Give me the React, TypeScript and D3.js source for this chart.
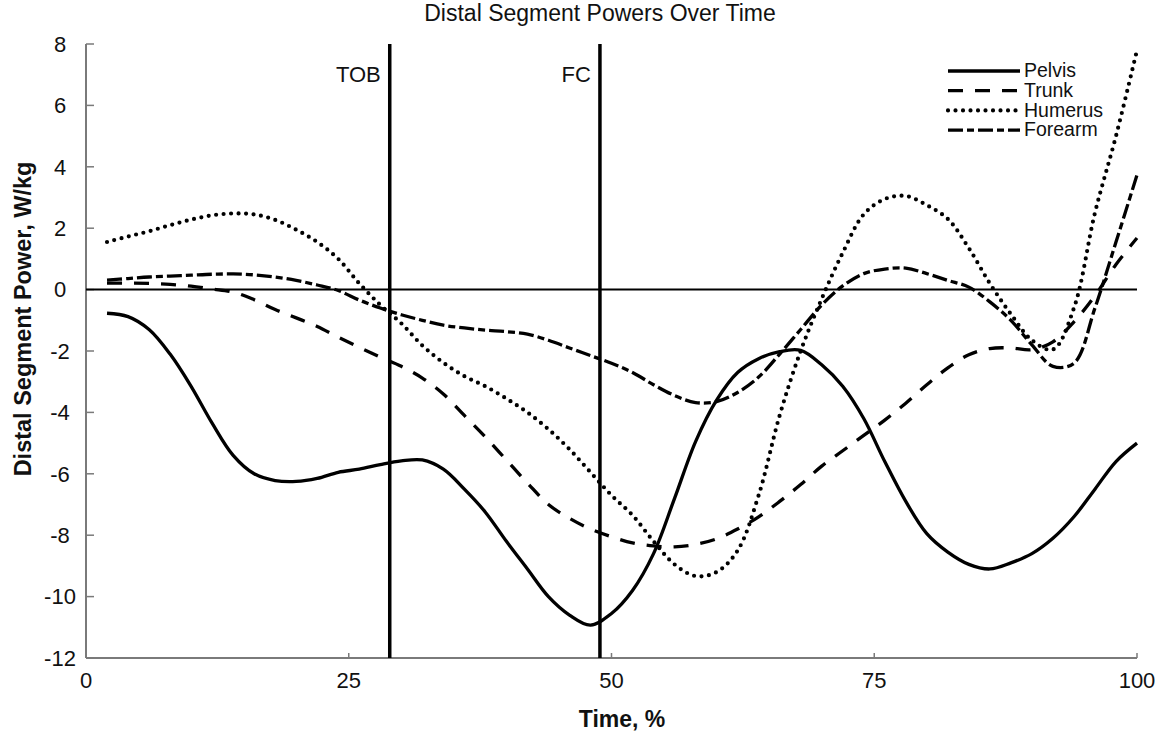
import React from "react";
import * as d3 from "d3";

// time points (% of cycle) and segment powers in W/kg
const time = [
  2, 4, 6, 8, 10, 12, 14, 16, 18, 20, 22, 24, 26, 28, 30, 32, 34, 36, 38, 40, 42, 44, 46, 48, 50,
  52, 54, 56, 58, 60, 62, 64, 66, 68, 70, 72, 74, 76, 78, 80, 82, 84, 86, 88, 90, 92, 94, 96, 98, 100,
];

const pelvis = [
  -0.77, -0.88, -1.3, -2.1, -3.15, -4.35, -5.4, -6.0, -6.22, -6.25, -6.15, -5.95, -5.85, -5.7, -5.58,
  -5.55, -5.85, -6.5, -7.25, -8.2, -9.1, -10.0, -10.6, -10.93, -10.55, -9.8, -8.6, -6.8, -4.95, -3.6,
  -2.7, -2.25, -2.02, -1.98, -2.45, -3.15, -4.2, -5.6, -6.9, -7.95, -8.55, -8.95, -9.1, -8.9, -8.6,
  -8.1, -7.4, -6.5, -5.6, -5.0,
];

const trunk = [
  0.21, 0.21, 0.2, 0.17, 0.11, 0.02, -0.08, -0.33, -0.65, -0.92, -1.2, -1.55, -1.88, -2.2, -2.5,
  -2.88, -3.4, -4.1, -4.8, -5.55, -6.3, -7.0, -7.45, -7.8, -8.05, -8.25, -8.35, -8.38, -8.3, -8.12,
  -7.8, -7.4, -6.9, -6.35, -5.75, -5.25, -4.75, -4.25, -3.7, -3.1, -2.55, -2.12, -1.92, -1.9, -1.96,
  -1.7, -1.05, -0.2, 0.82, 1.68,
];

const humerus = [
  1.55, 1.73, 1.9, 2.1, 2.28, 2.42, 2.48, 2.45, 2.27, 1.95, 1.55, 1.0, 0.2, -0.5, -1.1, -1.82, -2.38,
  -2.82, -3.15, -3.55, -4.0, -4.55, -5.2, -5.95, -6.7, -7.35, -8.2, -8.95, -9.33, -9.2, -8.5, -6.7,
  -4.1, -2.0, -0.3, 1.2, 2.45, 2.95, 3.05, 2.75, 2.3, 1.35, 0.2, -0.8, -1.65, -1.95, -0.6, 2.5, 5.0,
  7.8,
];

const forearm = [
  0.31, 0.36, 0.41, 0.44, 0.47, 0.5, 0.51, 0.48, 0.41, 0.3, 0.15, -0.03, -0.34, -0.6, -0.82, -1.0,
  -1.16, -1.25, -1.32, -1.37, -1.45, -1.65, -1.9, -2.15, -2.4, -2.7, -3.1, -3.45, -3.68, -3.65, -3.35,
  -2.85, -2.1, -1.3, -0.5, 0.12, 0.52, 0.67, 0.7, 0.52, 0.3, 0.08, -0.4, -1.0, -1.8, -2.5, -2.4,
  -0.6, 1.55, 3.73,
];

const seriesNames = ["Pelvis", "Trunk", "Humerus", "Forearm"];
const seriesValues = [pelvis, trunk, humerus, forearm];
const seriesDash = [null, "15,12", "0,7.5", "15,4,7,4"];

const events = ["TOB", "FC"];
const eventTimes = [28.9, 48.9];

const xTicks = [0, 25, 50, 75, 100];
const yTicks = [8, 6, 4, 2, 0, -2, -4, -6, -8, -10, -12];

const W = 1159;
const H = 731;
const left = 86;
const right = 1137;
const top = 44;
const bottom = 658;

export default function App() {
  const x = d3.scaleLinear().domain([0, 100]).range([left, right]);
  const y = d3.scaleLinear().domain([-12, 8]).range([bottom, top]);

  const line = d3
    .line<number>()
    .x((_, i) => x(time[i]))
    .y((d) => y(d))
    .curve(d3.curveCatmullRom.alpha(0.5));

  const font = "'Liberation Sans', Arial, sans-serif";
  const axisColor = "#7a7a7a";
  const width = (i: number) => (i === 2 ? 4.2 : 3.3);

  return (
    <>
      <style>{`body{margin:0}`}</style>
      <svg width={W} height={H} style={{ display: "block", background: "#fff" }} fontFamily={font}>
        <text x={600} y={15} textAnchor="middle" dominantBaseline="middle" fontSize={23} fill="#111">
          Distal Segment Powers Over Time
        </text>

        {/* axes */}
        <line x1={left} x2={left} y1={top} y2={bottom} stroke={axisColor} strokeWidth={2} />
        <line x1={left} x2={right} y1={bottom} y2={bottom} stroke={axisColor} strokeWidth={2} />
        {yTicks.map((t) => (
          <g key={"y" + t}>
            <line x1={left} x2={left + 8} y1={y(t)} y2={y(t)} stroke={axisColor} strokeWidth={1.5} />
            <text x={60} y={y(t) + 2} textAnchor="middle" dominantBaseline="middle" fontSize={22} fill="#111">
              {t}
            </text>
          </g>
        ))}
        {xTicks.map((t) => (
          <g key={"x" + t}>
            {t > 0 && (
              <line x1={x(t)} x2={x(t)} y1={bottom} y2={bottom - 5} stroke={axisColor} strokeWidth={1.5} />
            )}
            <text x={x(t)} y={682} textAnchor="middle" dominantBaseline="middle" fontSize={22} fill="#111">
              {t}
            </text>
          </g>
        ))}
        <text x={622} y={721} textAnchor="middle" dominantBaseline="middle" fontSize={23} fontWeight="bold" fill="#111">
          Time, %
        </text>
        <text
          transform="translate(25,319) rotate(-90)"
          textAnchor="middle"
          dominantBaseline="middle"
          fontSize={23.5}
          fontWeight="bold"
          fill="#111"
        >
          Distal Segment Power, W/kg
        </text>

        {/* zero line */}
        <line x1={left} x2={right} y1={y(0)} y2={y(0)} stroke="#000" strokeWidth={2} />

        {/* event markers */}
        {events.map((e, i) => (
          <g key={e}>
            <line x1={x(eventTimes[i])} x2={x(eventTimes[i])} y1={top} y2={bottom} stroke="#000" strokeWidth={3.5} />
            <text x={x(eventTimes[i]) - 9} y={76} textAnchor="end" dominantBaseline="middle" fontSize={22} fill="#111">
              {e}
            </text>
          </g>
        ))}

        {/* series */}
        {seriesValues.map((vals, i) => (
          <path
            key={seriesNames[i]}
            d={line(vals) || ""}
            fill="none"
            stroke="#000"
            strokeWidth={width(i)}
            strokeDasharray={seriesDash[i] || undefined}
            strokeLinecap={i === 2 ? "round" : "butt"}
          />
        ))}

        {/* legend */}
        {seriesNames.map((n, i) => (
          <g key={"leg" + n} transform={`translate(948,${71 + i * 19.7})`}>
            <line
              x1={0}
              x2={72}
              y1={0}
              y2={0}
              stroke="#000"
              strokeWidth={width(i)}
              strokeDasharray={seriesDash[i] || undefined}
              strokeLinecap={i === 2 ? "round" : "butt"}
            />
            <text x={76} y={1} dominantBaseline="middle" fontSize={19.5} fill="#111">
              {n}
            </text>
          </g>
        ))}
      </svg>
    </>
  );
}
